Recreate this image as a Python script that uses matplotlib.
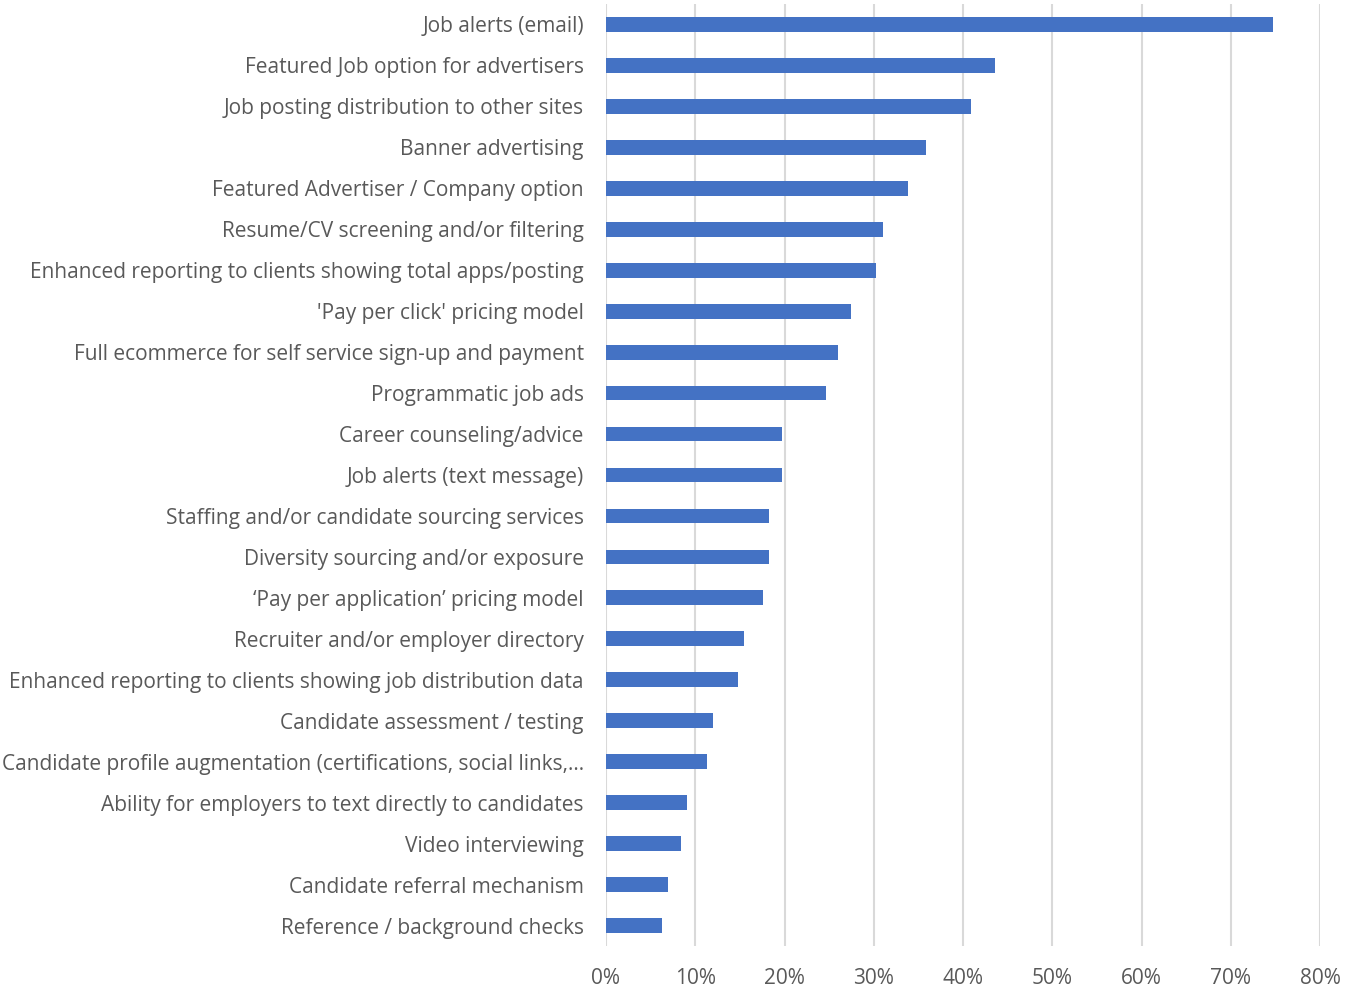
import numpy as np
import matplotlib.pyplot as plt
from matplotlib.ticker import PercentFormatter

# features and share of respondents, top to bottom
features = [
    "Job alerts (email)",
    "Featured Job option for advertisers",
    "Job posting distribution to other sites",
    "Banner advertising",
    "Featured Advertiser / Company option",
    "Resume/CV screening and/or filtering",
    "Enhanced reporting to clients showing total apps/posting",
    "'Pay per click' pricing model",
    "Full ecommerce for self service sign-up and payment",
    "Programmatic job ads",
    "Career counseling/advice",
    "Job alerts (text message)",
    "Staffing and/or candidate sourcing services",
    "Diversity sourcing and/or exposure",
    "\u2018Pay per application\u2019 pricing model",
    "Recruiter and/or employer directory",
    "Enhanced reporting to clients showing job distribution data",
    "Candidate assessment / testing",
    "Candidate profile augmentation (certifications, social links,\u2026",
    "Ability for employers to text directly to candidates",
    "Video interviewing",
    "Candidate referral mechanism",
    "Reference / background checks",
]
shares = [74.7, 43.6, 40.9, 35.9, 33.8, 31.0, 30.3, 27.4, 26.0, 24.6,
          19.7, 19.7, 18.3, 18.3, 17.6, 15.5, 14.8, 12.0, 11.3, 9.1,
          8.4, 7.0, 6.3]
xticks = [0, 10, 20, 30, 40, 50, 60, 70, 80]

plt.rcParams['font.family'] = ['Open Sans', 'DejaVu Sans']

fig = plt.figure(figsize=(13.58, 9.92), dpi=100)
ax = fig.add_axes([606 / 1358, 1 - 946 / 992, 714 / 1358, 942 / 992])

y = np.arange(len(features))
ax.barh(y, shares, height=0.36, color='#4472C4', zorder=3)

ax.set_ylim(len(features) - 0.5, -0.5)
ax.set_xlim(0, 80)
ax.set_yticks(y)
ax.set_yticklabels(features)
ax.set_xticks(xticks)
ax.xaxis.set_major_formatter(PercentFormatter(decimals=0))

ax.grid(axis='x', color='#d9d9d9', linewidth=1.5, zorder=0)
for s in ax.spines.values():
    s.set_visible(False)
ax.tick_params(axis='both', length=0, labelsize=15, colors='#595959')
ax.tick_params(axis='y', pad=16)
ax.tick_params(axis='x', pad=16)

fig.savefig('out.png', dpi=100)
